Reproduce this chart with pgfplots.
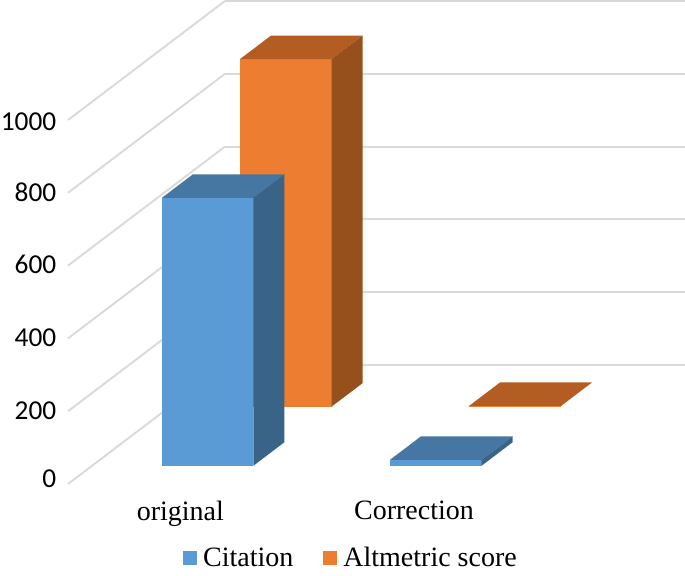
\documentclass[border=0pt]{standalone}
\usepackage{fontspec}
\setmainfont{Liberation Serif}
\newfontfamily\calibri{Carlito}
\usepackage{pgfplots}
\pgfplotsset{compat=1.18}
\definecolor{bF}{HTML}{5B9BD5}
\definecolor{bT}{HTML}{4676A2}
\definecolor{bS}{HTML}{3A6487}
\definecolor{oF}{HTML}{ED7D31}
\definecolor{oT}{HTML}{B45D22}
\definecolor{oS}{HTML}{96501C}
\definecolor{gridc}{HTML}{D9D9D9}
\begin{document}
\begin{tikzpicture}
\begin{axis}[
  x={(0.75pt,0pt)}, y={(117.75pt,89.25pt)}, z={(0pt,0.273pt)},
  xmin=68, xmax=528, ymin=0, ymax=1, zmin=0, zmax=1000,
  clip=false,
  axis line style={draw=none},
  major tick style={draw=none},
  xtick={181,413}, xticklabels={original,Correction},
  ytick=\empty,
  ztick={0,200,400,600,800,1000},
  zmajorgrids=true,
  major grid style={draw=gridc,line width=1.4pt},
  /pgf/number format/assume math mode=true,
  /pgf/number format/1000 sep={},
  zticklabel style={font=\fontsize{20.5}{24}\selectfont\calibri,xshift=-5.25pt,yshift=7pt},
  xticklabel style={font=\fontsize{21}{24}\selectfont,xshift=6pt,yshift=-9pt},
  legend columns=2,
  reverse legend,
  legend style={draw=none,fill=none,at={(axis cs:351,0,-203)},anchor=center,
    font=\fontsize{21}{24}\selectfont,
    /tikz/every even column/.append style={column sep=20pt}},
  legend image code/.code={\fill[#1] (0pt,-5.2pt) rectangle (10.5pt,5.3pt); \path (13.5pt,0pt);},
]
% Altmetric score, original
\addplot3[fill=oF,draw=none] coordinates {(138,0.65,0)(229.5,0.65,0)(229.5,0.65,955)(138,0.65,955)} -- cycle;
\addlegendentry{Altmetric score}
\addplot3[forget plot,fill=oT,draw=none] coordinates {(138,0.65,955)(229.5,0.65,955)(229.5,0.8475,955)(138,0.8475,955)} -- cycle;
\addplot3[forget plot,fill=oS,draw=none] coordinates {(229.5,0.65,0)(229.5,0.8475,0)(229.5,0.8475,955)(229.5,0.65,955)} -- cycle;
% Altmetric score, Correction
\addplot3[forget plot,fill=oF,draw=none] coordinates {(367,0.65,0)(459,0.65,0)(459,0.65,2)(367,0.65,2)} -- cycle;
\addplot3[forget plot,fill=oT,draw=none] coordinates {(367,0.65,2)(459,0.65,2)(459,0.8475,2)(367,0.8475,2)} -- cycle;
% Citation, original
\addplot3[fill=bF,draw=none] coordinates {(137.8,0.154,0)(229.3,0.154,0)(229.3,0.154,736)(137.8,0.154,736)} -- cycle;
\addlegendentry{Citation}
\addplot3[forget plot,fill=bT,draw=none] coordinates {(137.8,0.154,736)(229.3,0.154,736)(229.3,0.3515,736)(137.8,0.3515,736)} -- cycle;
\addplot3[forget plot,fill=bS,draw=none] coordinates {(229.3,0.154,0)(229.3,0.3515,0)(229.3,0.3515,736)(229.3,0.154,736)} -- cycle;
% Citation, Correction
\addplot3[forget plot,fill=bF,draw=none] coordinates {(365.8,0.154,0)(457.5,0.154,0)(457.5,0.154,16)(365.8,0.154,16)} -- cycle;
\addplot3[forget plot,fill=bT,draw=none] coordinates {(365.8,0.154,16)(457.5,0.154,16)(457.5,0.3515,16)(365.8,0.3515,16)} -- cycle;
\addplot3[forget plot,fill=bS,draw=none] coordinates {(457.5,0.154,0)(457.5,0.3515,0)(457.5,0.3515,16)(457.5,0.154,16)} -- cycle;
\coordinate (BL) at (axis cs:68,0,0);
\end{axis}
\pgfresetboundingbox
\path[use as bounding box,shift={(BL)}] (-51pt,-68.25pt) rectangle (462.75pt,363pt);
\end{tikzpicture}
\end{document}
